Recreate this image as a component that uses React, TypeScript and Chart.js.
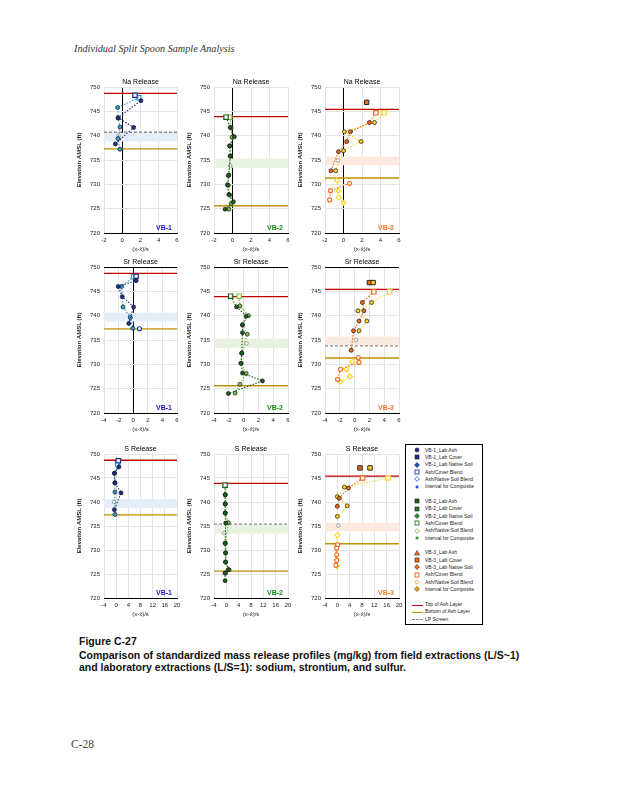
import React, { useEffect, useRef } from 'react';
import { Chart, registerables } from 'chart.js';
Chart.register(...registerables);

type Pt = [number, number];

// ---------- shared well information ----------
const wellNames = ['VB-1', 'VB-2', 'VB-3'];
const ashTopElev = [748.7, 743.9, 745.4];
const ashBottomElev = [737.3, 725.6, 731.3];
const compositeTop = [740.6, 735.3, 735.7];
const compositeBottom = [738.8, 733.4, 733.9];
const lpScreenElev = [740.7, 735.4, 733.8];
const elevMin = 720;
const elevMax = 750;
const elevStep = 5;

const releaseTitles = ['Na Release', 'Sr Release', 'S Release'];
const xMins = [-2, -4, -4];
const xMaxs = [6, 6, 20];
const xSteps = [2, 2, 4];
const xAxisTitle = '(x-x\u0304)/s';
const yAxisTitle = 'Elevation AMSL (ft)';

// ---------- Na ----------
const naVB1Lab: Pt[] = [[1.4, 748.3], [2.05, 747.2], [-0.45, 743.7], [1.25, 741.7], [-0.75, 738.3]];
const naVB1Field: Pt[] = [[1.8, 747.8], [-0.5, 745.8], [-0.45, 743.6], [-0.25, 741.8], [-0.45, 739.4], [-0.25, 737.2]];
const naVB1Comp: Pt[] = [[-0.4, 740.0]];

const naVB2Lab: Pt[] = [[-0.7, 743.8], [-0.25, 741.7], [0.2, 739.8], [-0.3, 737.9], [-0.25, 735.8], [-0.4, 731.9], [-0.55, 729.9], [-0.4, 727.9], [0.1, 726.4], [-0.8, 724.9]];
const naVB2Field: Pt[] = [[-0.3, 743.8], [-0.15, 741.6], [-0.05, 739.7], [-0.3, 737.9], [-0.2, 735.8], [-0.45, 731.8], [-0.45, 729.8], [-0.3, 727.8], [-0.15, 726.0], [-0.4, 724.9]];
const naVB2Comp: Pt[] = [[-0.25, 733.8]];

const naVB3Cover: Pt[] = [[2.5, 746.85]];
const naVB3Lab: Pt[] = [[3.5, 744.7], [2.8, 742.7], [0.75, 740.8], [0.35, 738.8], [-0.55, 736.7], [-1.35, 732.8]];
const naVB3Field: Pt[] = [[4.4, 744.7], [3.35, 742.7], [0.1, 740.8], [1.9, 738.8], [0, 736.9], [-0.85, 732.8]];
const naVB3LabNative: Pt[] = [[0.65, 730.2], [-1.4, 728.7], [-1.5, 726.8]];
const naVB3FieldNative: Pt[] = [[-0.7, 730.8], [-0.55, 728.7], [-0.5, 727.3], [0, 726.2]];
const naVB3Comp: Pt[] = [[-0.6, 734.9]];

// ---------- Sr ----------
const srVB1Lab: Pt[] = [[0.4, 748.1], [0.4, 747.2], [-2.05, 746.0], [-1.5, 743.9], [0.05, 741.8], [-0.6, 738.4]];
const srVB1Field: Pt[] = [[0.05, 748.0], [-1.6, 746.0], [-1.4, 741.8], [-0.4, 739.6], [-0.05, 737.4]];
const srVB1LabNative: Pt[] = [[0.85, 737.3]];
const srVB1Comp: Pt[] = [[-0.4, 740.0]];

const srVB2Lab: Pt[] = [[-1.75, 744.0], [-0.95, 741.8], [0.35, 739.9], [-0.15, 738.1], [-0.15, 736.5], [-0.25, 732.3], [-0.35, 730.2], [-0.15, 728.2], [2.55, 726.6], [-2.05, 724.0]];
const srVB2Field: Pt[] = [[-0.6, 744.0], [-0.5, 742.0], [0.65, 740.0], [-0.15, 738.1], [0.5, 736.2], [-0.25, 732.3], [-0.35, 730.2], [0.35, 728.1], [-0.5, 725.9], [-1.15, 724.1]];
const srVB2Comp: Pt[] = [[0.4, 734.3]];

const srVB3Cover: Pt[] = [[2.0, 746.8], [2.5, 746.8]];
const srVB3Lab: Pt[] = [[2.6, 744.9], [1.05, 742.7], [1.25, 741.0], [0.6, 738.9], [-0.15, 736.9], [-0.45, 732.9]];
const srVB3Field: Pt[] = [[4.75, 744.9], [2.3, 742.7], [0.45, 741.0], [1.65, 738.9], [0.6, 736.9]];
const srVB3LabNative: Pt[] = [[0.5, 731.4], [0.6, 730.4], [-1.9, 729.0], [-2.3, 726.9]];
const srVB3FieldNative: Pt[] = [[-0.3, 730.6], [-1.1, 729.0], [-0.6, 727.5], [-1.9, 726.4]];
const srVB3Comp: Pt[] = [[0.2, 735.0]];

// ---------- S ----------
const sVB1Lab: Pt[] = [[0.7, 748.6], [0.9, 747.3], [-0.6, 746.0], [-0.4, 744.0], [1.6, 741.9], [-0.6, 738.4]];
const sVB1Field: Pt[] = [[0.5, 747.9], [-0.5, 746.0], [-0.4, 744.0], [-0.4, 742.1], [-0.4, 737.4]];
const sVB1Comp: Pt[] = [[-0.7, 740.0]];

const sVB2Lab: Pt[] = [[-0.4, 743.5], [-0.4, 741.5], [-0.4, 739.6], [-0.4, 737.7], [-0.2, 735.6], [-0.4, 731.4], [-0.2, 729.4], [-0.2, 727.5], [0.9, 725.9], [-0.4, 725.2], [-0.4, 723.6]];
const sVB2Field: Pt[] = [[-0.4, 743.5], [-0.3, 741.5], [-0.3, 739.6], [-0.3, 737.7], [0.65, 735.7], [-0.3, 731.4], [-0.3, 729.4], [-0.3, 727.5], [0.6, 725.9], [-0.3, 725.2]];
const sVB2Comp: Pt[] = [[-0.7, 733.5]];

const sVB3Cover: Pt[] = [[7.35, 747.1], [10.6, 747.1]];
const sVB3Lab: Pt[] = [[8.2, 745.0], [3.6, 742.9], [0.65, 740.8], [0, 739.1]];
const sVB3Field: Pt[] = [[16.5, 745.0], [2.3, 743.1], [0, 741.1], [3.2, 739.2], [0, 737.0]];
const sVB3LabNative: Pt[] = [[0.1, 731.1], [-0.2, 730.4], [-0.2, 729.0], [-0.2, 727.8], [-0.5, 726.8]];
const sVB3FieldNative: Pt[] = [[0, 733.1], [-0.2, 730.8], [-0.2, 728.0], [-0.2, 726.6]];
const sVB3Comp: Pt[] = [[0.3, 735.1]];

// ---------- legend ----------
const legendLabels1 = ['VB-1_Lab Ash', 'VB-1_Lab Cover', 'VB-1_Lab Native Soil', 'Ash/Cover Blend', 'Ash/Native Soil Blend', 'Interval for Composite'];
const legendLabels2 = ['VB-2_Lab Ash', 'VB-2_Lab Cover', 'VB-2_Lab Native Soil', 'Ash/Cover Blend', 'Ash/Native Soil Blend', 'Interval for Composite'];
const legendLabels3 = ['VB-3_Lab Ash', 'VB-3_Lab Cover', 'VB-3_Lab Native Soil', 'Ash/Cover Blend', 'Ash/Native Soil Blend', 'Interval for Composite'];
const legendLineLabels = ['Top of Ash Layer', 'Bottom of Ash Layer', 'LP Screen'];

// ---------- styling ----------
const FONT = '"Liberation Sans", Arial, sans-serif';
const palettes = [
  { dark: '#1f2d8c', light: '#2ea3dc', label: '#1414c8', band: '#e4edf8' },
  { dark: '#1f5f1f', light: '#7dc142', label: '#178a17', band: '#e8f2e1' },
  { dark: '#f26a1b', light: '#ffd21f', label: '#f07a2a', band: '#fbeadf' },
];
const RED = '#c00000';
const GOLD = '#bf9000';
const GRAY = '#8c8c8c';
const GRID = '#e3e3e3';

interface PanelSpec {
  row: number;
  col: number;
  cover: Pt[];
  lab: Pt[];
  field: Pt[];
  labNat: Pt[];
  fieldNat: Pt[];
  comp: Pt[];
  lp: boolean;
  zeroBlack: boolean;
}

const panels: PanelSpec[] = [
  { row: 0, col: 0, cover: [], lab: naVB1Lab, field: naVB1Field, labNat: [], fieldNat: [], comp: naVB1Comp, lp: true, zeroBlack: true },
  { row: 0, col: 1, cover: [], lab: naVB2Lab, field: naVB2Field, labNat: [], fieldNat: [], comp: naVB2Comp, lp: false, zeroBlack: true },
  { row: 0, col: 2, cover: naVB3Cover, lab: naVB3Lab, field: naVB3Field, labNat: naVB3LabNative, fieldNat: naVB3FieldNative, comp: naVB3Comp, lp: false, zeroBlack: true },
  { row: 1, col: 0, cover: [], lab: srVB1Lab, field: srVB1Field, labNat: srVB1LabNative, fieldNat: [], comp: srVB1Comp, lp: false, zeroBlack: true },
  { row: 1, col: 1, cover: [], lab: srVB2Lab, field: srVB2Field, labNat: [], fieldNat: [], comp: srVB2Comp, lp: false, zeroBlack: false },
  { row: 1, col: 2, cover: srVB3Cover, lab: srVB3Lab, field: srVB3Field, labNat: srVB3LabNative, fieldNat: srVB3FieldNative, comp: srVB3Comp, lp: true, zeroBlack: false },
  { row: 2, col: 0, cover: [], lab: sVB1Lab, field: sVB1Field, labNat: [], fieldNat: [], comp: sVB1Comp, lp: false, zeroBlack: false },
  { row: 2, col: 1, cover: [], lab: sVB2Lab, field: sVB2Field, labNat: [], fieldNat: [], comp: sVB2Comp, lp: true, zeroBlack: false },
  { row: 2, col: 2, cover: sVB3Cover, lab: sVB3Lab, field: sVB3Field, labNat: sVB3LabNative, fieldNat: sVB3FieldNative, comp: sVB3Comp, lp: false, zeroBlack: false },
];

// layout (page pixels)
const plotLefts = [104, 214, 325];
const plotWidths = [73, 74, 74];
const plotTops = [87, 267, 454];
const plotHeights = [146, 146, 144];
const Y_AXIS_W = 28;
const PAD_TOP = 12;
const PAD_RIGHT = 8;
const X_AXIS_H = 20;

const toXY = (a: Pt[]) => a.map(([x, y]) => ({ x, y }));

function buildDatasets(p: PanelSpec) {
  const pal = palettes[p.col];
  const xmin = xMins[p.row];
  const xmax = xMaxs[p.row];
  const w = p.col;
  const series = (pts: Pt[], color: string, dash: number[]) => ({
    data: toXY(pts),
    showLine: true,
    borderColor: color,
    borderWidth: 1.1,
    borderDash: dash,
    pointStyle: pts.map((_, i) => (i === 0 ? 'rect' : 'circle')),
    pointBackgroundColor: pts.map((_, i) => (i === 0 ? '#ffffff' : color)),
    pointBorderColor: pts.map((_, i) => (i === 0 ? color : '#111111')),
    pointBorderWidth: pts.map((_, i) => (i === 0 ? 1.2 : 0.7)),
    pointRadius: pts.map((_, i) => (i === 0 ? 3.1 : 2.0)),
    order: 1,
  });
  const ds: any[] = [];
  ds.push(series(p.lab, pal.dark, [1.5, 1.5]));
  ds.push(series(p.field, pal.light, [1.5, 1.5]));
  ds.push({
    data: toXY(p.labNat),
    showLine: true,
    borderColor: pal.dark,
    borderWidth: 1.1,
    borderDash: [1.5, 1.5],
    pointStyle: 'circle',
    pointBackgroundColor: '#ffffff',
    pointBorderColor: pal.dark,
    pointBorderWidth: 1.1,
    pointRadius: 2.0,
    order: 1,
  });
  ds.push({
    data: toXY(p.fieldNat),
    showLine: true,
    borderColor: pal.light,
    borderWidth: 1.1,
    borderDash: [1.5, 1.5],
    pointStyle: 'rectRot',
    pointBackgroundColor: '#ffffff',
    pointBorderColor: pal.light,
    pointBorderWidth: 1.1,
    pointRadius: 2.5,
    order: 1,
  });
  ds.push({
    data: toXY(p.cover),
    showLine: false,
    pointStyle: 'rect',
    pointBackgroundColor: p.cover.map((_, i) => (i === 0 ? pal.dark : pal.light)),
    pointBorderColor: '#222222',
    pointBorderWidth: 1,
    pointRadius: 3.1,
    order: 0,
  });
  ds.push({
    data: toXY(p.comp),
    showLine: false,
    pointStyle: 'circle',
    pointBackgroundColor: '#ffffff',
    pointBorderColor: '#a0a0a0',
    pointBorderWidth: 1,
    pointRadius: 1.8,
    order: 2,
  });
  const hline = (y: number, color: string, dash: number[]) => ({
    data: [{ x: xmin, y }, { x: xmax, y }],
    showLine: true,
    borderColor: color,
    borderWidth: 1.3,
    borderDash: dash,
    pointRadius: 0,
    order: 5,
  });
  ds.push(hline(ashTopElev[w], RED, []));
  ds.push(hline(ashBottomElev[w], GOLD, []));
  if (p.lp) ds.push(hline(lpScreenElev[w], GRAY, [3, 2]));
  return ds;
}

function Panel({ spec }: { spec: PanelSpec }) {
  const ref = useRef<HTMLCanvasElement>(null);
  const L = plotLefts[spec.col];
  const T = plotTops[spec.row];
  const PW = plotWidths[spec.col];
  const PH = plotHeights[spec.row];
  const W = Y_AXIS_W + PW + PAD_RIGHT;
  const H = PAD_TOP + PH + X_AXIS_H;

  useEffect(() => {
    const pal = palettes[spec.col];
    const w = spec.col;
    const decor = {
      id: 'decor' + spec.row + spec.col,
      beforeDatasetsDraw(chart: any) {
        const { ctx, chartArea, scales } = chart;
        const y1 = scales.y.getPixelForValue(compositeTop[w]);
        const y2 = scales.y.getPixelForValue(compositeBottom[w]);
        ctx.save();
        ctx.fillStyle = pal.band;
        ctx.fillRect(chartArea.left, y1, chartArea.right - chartArea.left, y2 - y1);
        ctx.restore();
      },
      afterDraw(chart: any) {
        const { ctx, chartArea } = chart;
        ctx.save();
        ctx.font = '7px ' + FONT;
        ctx.fillStyle = '#000';
        ctx.textAlign = 'center';
        ctx.textBaseline = 'middle';
        ctx.fillText(releaseTitles[spec.row], (chartArea.left + chartArea.right) / 2, chartArea.top - 5);
        ctx.font = 'bold 7px ' + FONT;
        ctx.fillStyle = pal.label;
        ctx.textAlign = 'right';
        ctx.textBaseline = 'alphabetic';
        ctx.fillText(wellNames[w], chartArea.right - 5, chartArea.bottom - 3);
        ctx.restore();
      },
    };
    const chart = new Chart(ref.current as HTMLCanvasElement, {
      type: 'scatter',
      data: { datasets: buildDatasets(spec) },
      options: {
        animation: false,
        responsive: false,
        maintainAspectRatio: false,
        devicePixelRatio: 1,
        layout: { padding: { left: 0, top: PAD_TOP, right: PAD_RIGHT, bottom: 0 } },
        plugins: { legend: { display: false }, tooltip: { enabled: false }, title: { display: false } },
        scales: {
          x: {
            type: 'linear',
            min: xMins[spec.row],
            max: xMaxs[spec.row],
            ticks: { stepSize: xSteps[spec.row], font: { size: 6, family: FONT }, color: '#222', padding: 4, maxRotation: 0, autoSkip: false },
            grid: {
              drawTicks: false,
              lineWidth: 1,
              color: (c: any) => (spec.zeroBlack && c.tick && c.tick.value === 0 ? '#000000' : GRID),
            },
            border: { display: true, color: '#000', width: 1 },
            title: { display: true, text: xAxisTitle, font: { size: 6, family: FONT }, color: '#222', padding: 0 },
            afterFit: (s: any) => { s.height = X_AXIS_H; },
          },
          y: {
            type: 'linear',
            min: elevMin,
            max: elevMax,
            ticks: { stepSize: elevStep, font: { size: 6, family: FONT }, color: '#222', padding: 4 },
            grid: {
              drawTicks: false,
              lineWidth: 1,
              color: (c: any) => (spec.row === 1 && c.tick && c.tick.value === elevMax ? '#000000' : GRID),
            },
            border: { display: false },
            title: { display: true, text: yAxisTitle, font: { size: 6, family: FONT, weight: 'bold' }, color: '#222', padding: 0 },
            afterFit: (s: any) => { s.width = Y_AXIS_W; },
          },
        },
      } as any,
      plugins: [decor],
    });
    return () => chart.destroy();
  }, []);

  return (
    <canvas
      ref={ref}
      width={W}
      height={H}
      style={{ position: 'absolute', left: L - Y_AXIS_W, top: T - PAD_TOP, width: W, height: H }}
    />
  );
}

function Marker({ kind, color }: { kind: string; color: string }) {
  const s = 6;
  let el: any = null;
  if (kind === 'fc') el = <circle cx={3} cy={3} r={2} fill={color} stroke="#111" strokeWidth={0.6} />;
  else if (kind === 'fs') el = <rect x={1} y={1} width={4} height={4} fill={color} stroke="#111" strokeWidth={0.6} />;
  else if (kind === 'fd') el = <polygon points="3,0.5 5.5,3 3,5.5 0.5,3" fill={color} stroke="#111" strokeWidth={0.5} />;
  else if (kind === 'os') el = <rect x={1} y={1} width={4} height={4} fill="#fff" stroke={color} strokeWidth={1} />;
  else if (kind === 'od') el = <polygon points="3,0.7 5.3,3 3,5.3 0.7,3" fill="#fff" stroke={color} strokeWidth={0.9} />;
  else if (kind === 'ss') el = <rect x={1.5} y={1.5} width={3} height={3} fill={color} stroke="#fff" strokeWidth={0.4} />;
  else if (kind === 'ft') el = <polygon points="3,0.5 5.5,5 0.5,5" fill={color} stroke="#111" strokeWidth={0.5} />;
  return (
    <svg width={s} height={s} style={{ position: 'absolute', left: 8, top: -3 }}>
      {el}
    </svg>
  );
}

function Legend() {
  const groups = [
    { labels: legendLabels1, kinds: ['fc', 'fs', 'fd', 'os', 'od', 'ss'], colors: ['#1f2d8c', '#1f2d8c', '#1f4fc8', '#1f4fc8', '#2e6fe0', '#1f4fc8'] },
    { labels: legendLabels2, kinds: ['fs', 'fs', 'fd', 'os', 'od', 'ss'], colors: ['#1f5f1f', '#2d7a2d', '#2e8b2e', '#2e8b2e', '#7dc142', '#2e8b2e'] },
    { labels: legendLabels3, kinds: ['ft', 'fs', 'fd', 'os', 'od', 'fd'], colors: ['#f26a1b', '#f26a1b', '#f26a1b', '#f26a1b', '#f7a04a', '#f5a623'] },
  ];
  const groupStarts = [5, 56.3, 107.7];
  const step = 7.35;
  const textStyle: any = { position: 'absolute', left: 19, top: -3.5, fontSize: 5, lineHeight: '7px', fontFamily: FONT, color: '#222', whiteSpace: 'nowrap' };
  const lineColors = [RED, GOLD, GRAY];
  return (
    <div style={{ position: 'absolute', left: 405, top: 444, width: 78, height: 181, border: '1px solid #000', boxSizing: 'border-box', background: '#fff' }}>
      {groups.map((g, gi) =>
        g.labels.map((lab, i) => (
          <div key={gi + '-' + i} style={{ position: 'absolute', left: 0, top: groupStarts[gi] + i * step }}>
            <Marker kind={g.kinds[i]} color={g.colors[i]} />
            <div style={textStyle}>{lab}</div>
          </div>
        ))
      )}
      {legendLineLabels.map((lab, i) => (
        <div key={'l' + i} style={{ position: 'absolute', left: 0, top: 159.5 + i * step }}>
          <div style={{ position: 'absolute', left: 6, top: 0, width: 11, height: 0, borderTop: (i === 2 ? '1px dashed ' : '1.3px solid ') + lineColors[i] }} />
          <div style={textStyle}>{lab}</div>
        </div>
      ))}
    </div>
  );
}

export default function App() {
  const caption: any = { position: 'absolute', left: 79, fontFamily: FONT, fontWeight: 'bold', fontSize: 10.5, color: '#111', whiteSpace: 'nowrap', lineHeight: '12px' };
  return (
    <div style={{ position: 'absolute', left: 0, top: 0, width: 618, height: 800, background: '#fff', overflow: 'hidden' }}>
      <div style={{ position: 'absolute', left: 74, top: 43, fontFamily: '"Liberation Serif", "Times New Roman", serif', fontStyle: 'italic', fontSize: 10.2, color: '#333', whiteSpace: 'nowrap' }}>
        Individual Split Spoon Sample Analysis
      </div>
      {panels.map((p, i) => (
        <Panel key={i} spec={p} />
      ))}
      <Legend />
      <div style={{ ...caption, top: 635 }}>Figure C-27</div>
      <div style={{ ...caption, top: 648.5 }}>Comparison of standardized mass release profiles (mg/kg) from field extractions (L/S~1)</div>
      <div style={{ ...caption, top: 661 }}>and laboratory extractions (L/S=1): sodium, strontium, and sulfur.</div>
      <div style={{ position: 'absolute', left: 71, top: 738, fontFamily: '"Liberation Serif", "Times New Roman", serif', fontSize: 11.5, color: '#444', whiteSpace: 'nowrap' }}>
        C-28
      </div>
    </div>
  );
}
